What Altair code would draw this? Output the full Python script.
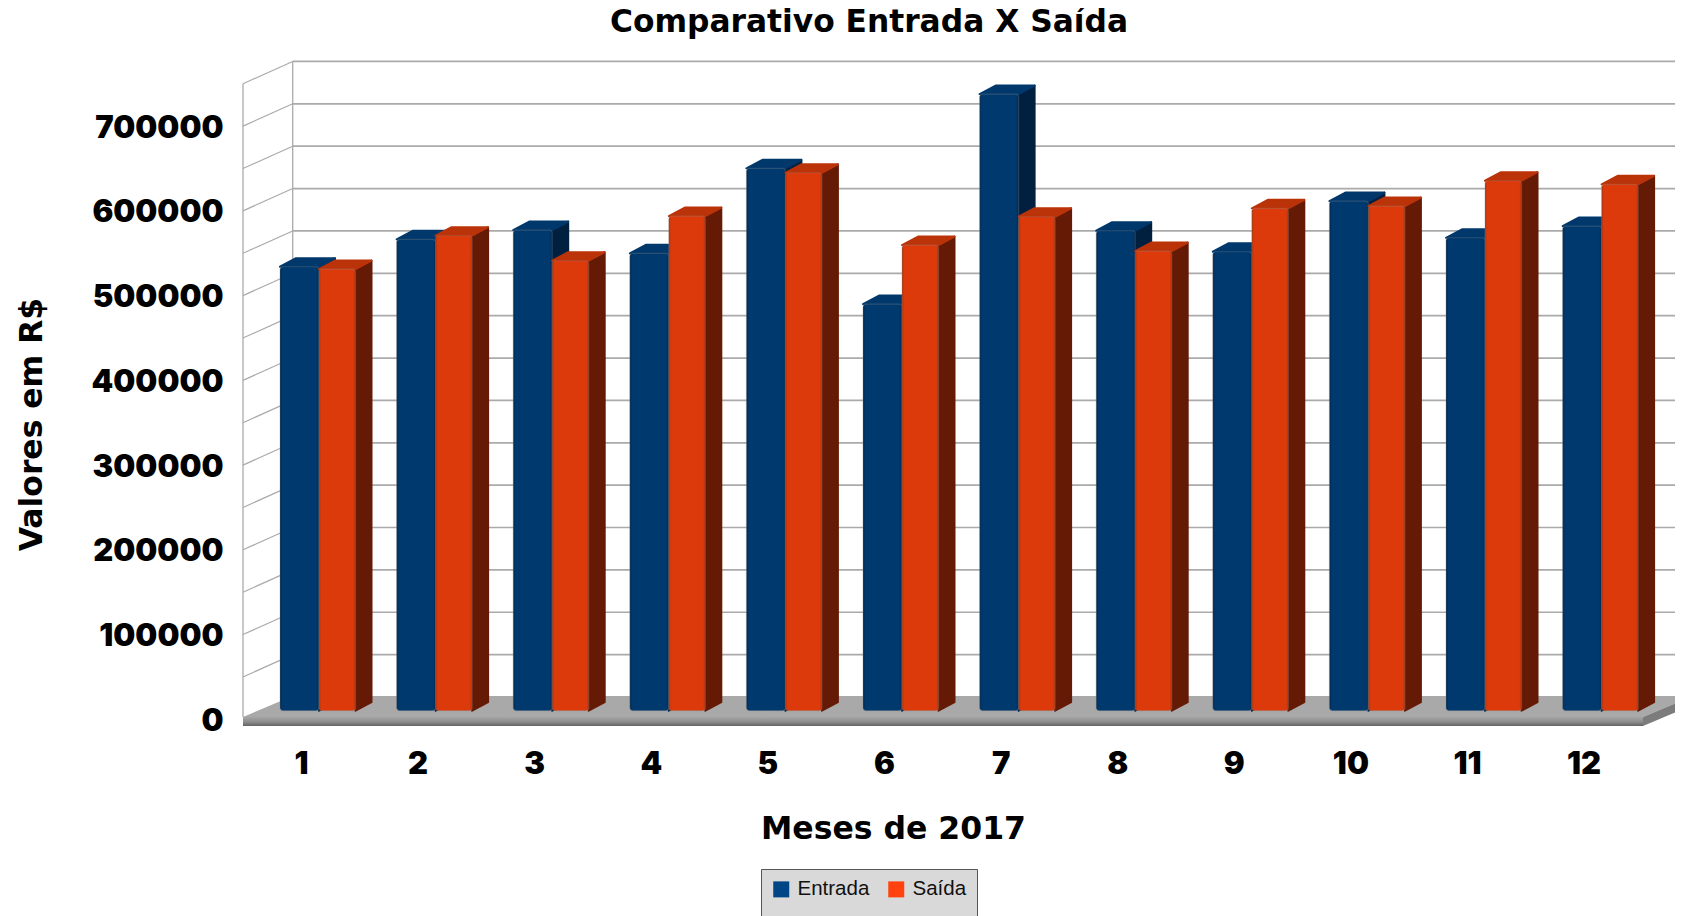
import altair as alt
import pandas as pd

# ---- values ----
months = [1, 2, 3, 4, 5, 6, 7, 8, 9, 10, 11, 12]
entrada = [523900, 556300, 567200, 539700, 640000, 479900, 727700, 566400, 541600, 601400, 558100, 571900]
saida = [521200, 560500, 531000, 583700, 634800, 549500, 582900, 542400, 592800, 595500, 625400, 621200]
series_names = ["Entrada", "Saída"]
legend_colors = ["#004586", "#ff420e"]
y_labels = [0, 100000, 200000, 300000, 400000, 500000, 600000, 700000]
grid_values = [0, 50000, 100000, 150000, 200000, 250000, 300000, 350000, 400000,
               450000, 500000, 550000, 600000, 650000, 700000, 750000]

# ---- geometry of the fake perspective ----
PLOT_L, PLOT_T, PLOT_W, PLOT_H = 243, 55, 1432, 675
UNIT = 116.6            # px per month
K = 42.37 / 50000       # px per R$
ZERO_Y = 719.3
TICK1_X = 301

def ux(px):  # pixel distance to month units
    return px / UNIT
def uy(px):  # pixel distance to value units
    return px / K

x_scale = alt.Scale(domain=[1 - ux(TICK1_X - PLOT_L), 1 + ux(PLOT_L + PLOT_W - TICK1_X)], nice=False, zero=False)
y_scale = alt.Scale(domain=[-uy(PLOT_T + PLOT_H - ZERO_Y), uy(ZERO_Y - PLOT_T)], nice=False, zero=False)

NUM_FONT = "Inter"
NUM_WEIGHT = 900
TITLE_FONT = "DejaVu Sans"
x_axis = alt.Axis(values=months, format="d", domain=False, ticks=False, grid=False,
                  labelFont=NUM_FONT, labelFontWeight=NUM_WEIGHT, labelFontSize=31, labelColor="#000",
                  labelPadding=19, title="Meses de 2017", titleFont=TITLE_FONT, titleFontWeight="bold",
                  titleFontSize=31.5, titleColor="#000", titleX=650, titleY=99, titleAlign="center",
                  titleBaseline="middle", labelFlush=False, labelOverlap=False)
y_axis = alt.Axis(values=y_labels, format="d", domain=False, ticks=False, grid=False,
                  labelFont=NUM_FONT, labelFontWeight=NUM_WEIGHT, labelFontSize=31, labelColor="#000",
                  labelPadding=20, labelOffset=2, title="Valores em R$", titleFont=TITLE_FONT,
                  titleFontWeight="bold", titleFontSize=31.4, titleColor="#000", titleX=-211, titleY=369,
                  titleAngle=270, titleAlign="center", titleBaseline="middle", labelOverlap=False)
X = alt.X("x:Q", scale=x_scale, axis=x_axis)
Y = alt.Y("y:Q", scale=y_scale, axis=y_axis)
X2 = alt.X2("x2:Q")
Y2 = alt.Y2("y2:Q")

# walls
front_l = 1 - ux(TICK1_X - PLOT_L)
back_dx, back_dy = ux(49.7), uy(22.3)
back_r = 1 + ux(1643 + 49.7 - TICK1_X)
front_r = 1 + ux(1643 - TICK1_X)

back_grid = pd.DataFrame(
    [{"v": v, "x": front_l + back_dx, "y": v + back_dy} for v in grid_values]
    + [{"v": v, "x": back_r, "y": v + back_dy} for v in grid_values])
side_grid = pd.DataFrame(
    [{"v": v, "x": front_l, "y": v} for v in grid_values]
    + [{"v": v, "x": front_l + back_dx, "y": v + back_dy} for v in grid_values])
walls = pd.DataFrame([
    {"x": front_l, "y": grid_values[-1], "y2": uy(2.3)},
    {"x": front_l + back_dx, "y": grid_values[-1] + back_dy, "y2": back_dy},
])

floor_f, floor_b = uy(2.3), uy(23.3)
slab = -uy(6.7)
floor_top = pd.DataFrame([
    {"x": front_l, "y": floor_f, "y2": floor_f},
    {"x": front_l + back_dx, "y": floor_f, "y2": floor_b},
    {"x": front_r, "y": floor_f, "y2": floor_b},
    {"x": back_r, "y": floor_b, "y2": floor_b},
])
floor_front = pd.DataFrame([{"x": front_l, "x2": front_r, "y": floor_f, "y2": slab}])
floor_side = pd.DataFrame([
    {"x": front_r, "y": slab, "y2": floor_f},
    {"x": back_r, "y": slab + (floor_b - floor_f), "y2": floor_b},
])

base = [
    alt.Chart(back_grid).mark_line(color="#aaaaaa", strokeWidth=1.7, clip=True).encode(x=X, y=Y, detail="v:N"),
    alt.Chart(side_grid).mark_line(color="#aaaaaa", strokeWidth=1.2).encode(x=X, y=Y, detail="v:N"),
    alt.Chart(walls).mark_rule(color="#aaaaaa", strokeWidth=1.3).encode(x=X, y=Y, y2=Y2),
    alt.Chart(floor_top).mark_area(color="#a9a9a9", clip=True).encode(x=X, y=Y, y2=Y2),
    alt.Chart(floor_side).mark_area(color="#7c7c7c", clip=True).encode(x=X, y=Y, y2=Y2),
    alt.Chart(floor_front).mark_bar(
        color=alt.Gradient(gradient="linear", x1=0, x2=0, y1=0, y2=1,
                           stops=[alt.GradientStop(offset=0, color="#a5a5a5"),
                                  alt.GradientStop(offset=0.55, color="#8c8c8c"),
                                  alt.GradientStop(offset=1, color="#626262")])
    ).encode(x=X, x2=X2, y=Y, y2=Y2),
]

# ---- bars ----
BASE_V = uy(ZERO_Y - 710.7)
DX, DY = ux(16), uy(8.5)

def bar_layers(values, left_px, right_px, edge, face, top, side):
    rows_front, rows_side, rows_top = [], [], []
    for m, v in zip(months, values):
        l, r = m + ux(left_px), m + ux(right_px)
        t = v + BASE_V
        rows_front.append({"m": m, "x": l, "x2": r, "y": t, "y2": BASE_V})
        rows_side += [{"m": m, "x": r, "y": t, "y2": BASE_V},
                      {"m": m, "x": r + DX, "y": t + DY, "y2": BASE_V + DY}]
        rows_top += [{"m": m, "x": l, "y": t, "y2": t},
                     {"m": m, "x": l + DX, "y": t, "y2": t + DY},
                     {"m": m, "x": r, "y": t, "y2": t + DY},
                     {"m": m, "x": r + DX, "y": t + DY, "y2": t + DY}]
    grad = alt.Gradient(gradient="linear", x1=0, x2=1, y1=0, y2=0,
                        stops=[alt.GradientStop(offset=0, color=edge),
                               alt.GradientStop(offset=0.06, color=face),
                               alt.GradientStop(offset=0.94, color=face),
                               alt.GradientStop(offset=1, color=edge)])
    halo = dict(stroke="#8a8a8a", strokeWidth=1.2, strokeOpacity=0.3)
    return [
        alt.Chart(pd.DataFrame(rows_side)).mark_area(color=side, strokeJoin="round", stroke=side, strokeWidth=2)
            .encode(x=X, y=Y, y2=Y2, detail="m:N"),
        alt.Chart(pd.DataFrame(rows_top)).mark_area(color=top, strokeJoin="round", stroke=top, strokeWidth=2)
            .encode(x=X, y=Y, y2=Y2, detail="m:N"),
        alt.Chart(pd.DataFrame(rows_front)).mark_bar(color=grad, cornerRadius=3, **halo)
            .encode(x=X, x2=X2, y=Y, y2=Y2),
    ]

blue = bar_layers(entrada, -21, 18, "#00254a", "#00396e", "#00386c", "#012040")
red = bar_layers(saida, 18, 54.5, "#a83008", "#dd3a0c", "#bb3309", "#651a06")

# ---- legend ----
legend_df = pd.DataFrame(
    [{"x": m, "y": v, "Serie": series_names[0]} for m, v in zip(months, entrada)]
    + [{"x": m, "y": v, "Serie": series_names[1]} for m, v in zip(months, saida)])
legend_layer = alt.Chart(legend_df).mark_square(opacity=0).encode(
    x=X, y=Y,
    color=alt.Color("Serie:N", scale=alt.Scale(domain=series_names, range=legend_colors),
                    legend=alt.Legend(orient="none", legendX=518, legendY=814, title=" ", titleOrient="bottom",
                                      titleFontSize=6, titlePadding=14, columns=2,
                                      direction="horizontal", symbolType="square", symbolSize=256,
                                      symbolOpacity=1, symbolStrokeWidth=0, labelFont="Liberation Sans",
                                      labelFontSize=20.5, labelColor="#111", labelOffset=6, columnPadding=16,
                                      padding=10, fillColor="#d9d9d9", strokeColor="#555555",
                                      symbolOffset=0)))

chart = alt.layer(*base, *blue, *red, legend_layer).properties(
    width=PLOT_W, height=PLOT_H,
    title=alt.TitleParams("Comparativo Entrada X Saída", font=TITLE_FONT, fontWeight="bold", fontSize=31.3,
                          color="#000", anchor="middle", dx=-90, offset=17),
    autosize=alt.AutoSizeParams(type="none"),
    padding={"left": PLOT_L - 8, "top": PLOT_T - 8, "right": 0, "bottom": 186},
).configure_view(stroke=None)

chart.save("out.html", embed_options={"renderer": "svg", "actions": False})
